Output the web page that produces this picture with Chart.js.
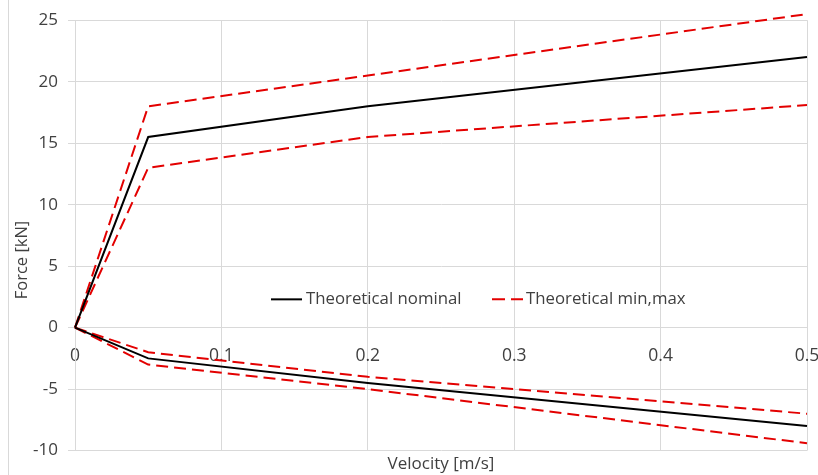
<!DOCTYPE html>
<html>
<head>
<meta charset="utf-8">
<script src="https://cdn.jsdelivr.net/npm/chart.js@4/dist/chart.umd.min.js"></script>
<style>
  html, body { margin: 0; padding: 0; background: #ffffff; }
  #wrap { width: 818px; height: 475px; position: relative; }
</style>
</head>
<body>
<div id="wrap"><canvas id="c" width="818" height="475"></canvas></div>
<script>
// ---- data ----
const velocity = [0, 0.05, 0.2, 0.5];
const nominalTension = [0, 15.5, 18, 22];
const nominalCompression = [0, -2.5, -4.5, -8];
const maxTension = [0, 18, 20.5, 25.5];
const minTension = [0, 13, 15.5, 18.1];
const upperCompression = [0, -2, -4, -7];
const lowerCompression = [0, -3, -5, -9.4];
const legendLabels = ['Theoretical nominal', 'Theoretical min,max'];
const xTicks = [0, 0.1, 0.2, 0.3, 0.4, 0.5];
const yTicks = [-10, -5, 0, 5, 10, 15, 20, 25];
const xTitle = 'Velocity [m/s]';
const yTitle = 'Force [kN]';

const FONT = "'Open Sans', 'Liberation Sans', sans-serif";
const TXT = '#404040';
const GRID = '#d9d9d9';
const RED = '#e30000';

const pts = (ys) => velocity.map((v, i) => ({ x: v, y: ys[i] }));

function solid(label, ys) {
  return { label, data: pts(ys), borderColor: '#000000', borderWidth: 2,
    pointRadius: 0, tension: 0, fill: false, clip: false };
}
function dashed(label, ys) {
  return { label, data: pts(ys), borderColor: RED, borderWidth: 2, borderDash: [12, 6],
    pointRadius: 0, tension: 0, fill: false, clip: false };
}

const legendPlugin = {
  id: 'customLegend',
  afterDraw(chart) {
    const ctx = chart.ctx;
    const y = chart.scales.y.getPixelForValue(2.3);
    ctx.save();
    ctx.font = '16.8px ' + FONT;
    ctx.fillStyle = TXT;
    ctx.textBaseline = 'middle';
    ctx.lineWidth = 2;
    // nominal
    ctx.strokeStyle = '#000000';
    ctx.setLineDash([]);
    ctx.beginPath(); ctx.moveTo(271, y); ctx.lineTo(302, y); ctx.stroke();
    ctx.fillText(legendLabels[0], 306, y);
    // min,max
    ctx.strokeStyle = RED;
    ctx.setLineDash([13, 6]);
    ctx.beginPath(); ctx.moveTo(492, y); ctx.lineTo(523, y); ctx.stroke();
    ctx.setLineDash([]);
    ctx.fillText(legendLabels[1], 526, y);
    // y axis title
    ctx.save();
    ctx.translate(22, 260);
    ctx.rotate(-Math.PI / 2);
    ctx.textAlign = 'center';
    ctx.font = '16.5px ' + FONT;
    ctx.fillText(yTitle, 0, 0);
    ctx.restore();
    // outer frame line on the left
    ctx.strokeStyle = GRID;
    ctx.lineWidth = 1;
    ctx.beginPath(); ctx.moveTo(8.5, 0); ctx.lineTo(8.5, 475); ctx.stroke();
    ctx.restore();
  }
};

const noPad = (s) => { s.paddingLeft = 0; s.paddingRight = 0; };

new Chart(document.getElementById('c'), {
  type: 'line',
  data: {
    datasets: [
      solid(legendLabels[0], nominalTension),
      solid(legendLabels[0], nominalCompression),
      dashed(legendLabels[1], maxTension),
      dashed(legendLabels[1], minTension),
      dashed(legendLabels[1], upperCompression),
      dashed(legendLabels[1], lowerCompression)
    ]
  },
  options: {
    responsive: false,
    animation: false,
    layout: { padding: { top: 18, right: 11, left: 0, bottom: 0 } },
    plugins: { legend: { display: false }, tooltip: { enabled: false } },
    scales: {
      x: {
        type: 'linear',
        position: { y: 0 },
        min: 0, max: 0.5,
        afterBuildTicks: (s) => { s.ticks = xTicks.map(v => ({ value: v })); },
        afterFit: noPad,
        ticks: { color: TXT, font: { family: FONT, size: 17.5 }, padding: 18,
          maxRotation: 0, autoSkip: false,
          callback: (v) => String(Math.round(v * 10) / 10) },
        grid: { color: GRID, lineWidth: 1, drawTicks: false },
        border: { color: GRID }
      },
      x2: {
        type: 'linear',
        position: 'bottom',
        min: 0, max: 0.5,
        afterFit: noPad,
        ticks: { display: false },
        grid: { display: false, drawTicks: false },
        border: { display: false },
        title: { display: true, text: xTitle, color: TXT,
          font: { family: FONT, size: 17 }, padding: { top: 3, bottom: 1 } }
      },
      y: {
        type: 'linear',
        min: -10, max: 25,
        afterBuildTicks: (s) => { s.ticks = yTicks.map(v => ({ value: v })); },
        afterFit: (s) => { s.width = 75; },
        ticks: { color: TXT, font: { family: FONT, size: 17 }, padding: 10 },
        grid: { color: GRID, lineWidth: 1, tickLength: 7 },
        border: { color: GRID },
        title: { display: false }
      }
    }
  },
  plugins: [legendPlugin]
});
</script>
</body>
</html>
